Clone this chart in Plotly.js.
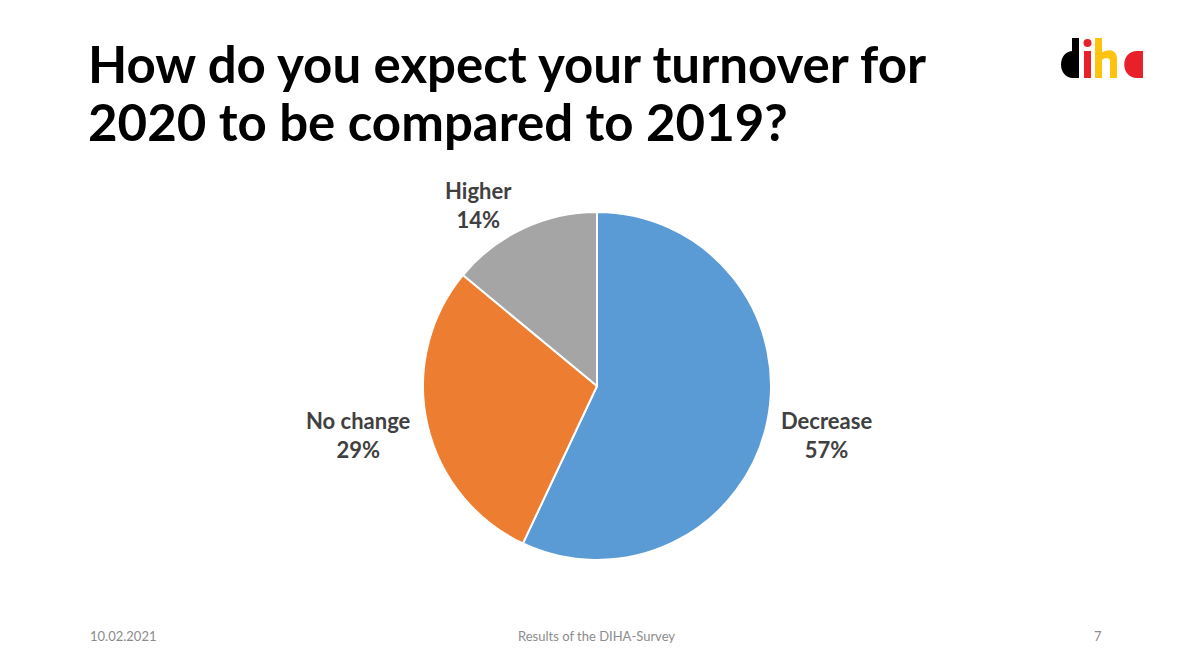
<!DOCTYPE html>
<html>
<head>
<meta charset="utf-8">
<script src="https://cdn.plot.ly/plotly-3.0.1.min.js"></script>
<style>html,body{margin:0;padding:0;background:#fff;}#chart{width:1191px;height:667px;}</style>
</head>
<body>
<div id="chart"></div>
<script>
const categories = ["Decrease", "No change", "Higher"];
const shares = [57, 29, 14];
const sliceColors = ["#5B9BD5", "#ED7D31", "#A5A5A5"];
const titleLines = ["How do you expect your turnover for", "2020 to be compared to 2019?"];
const footerDate = "10.02.2021";
const footerText = "Results of the DIHA-Survey";
const pageNumber = "7";
const logoColors = {black: "#000000", red: "#E8202A", gold: "#FFC20E"};

// label anchor positions (layout only)
const labelPos = [
  {x: 826, y: 435},
  {x: 358, y: 435},
  {x: 478, y: 205}
];
const titleLineY = [64, 121];
const W = 1191, H = 667;
const total = shares.reduce((a, b) => a + b, 0);

const trace = {
  type: "pie",
  labels: categories,
  values: shares,
  sort: false,
  direction: "clockwise",
  rotation: 0,
  marker: {colors: sliceColors, line: {color: "#ffffff", width: 2}},
  textinfo: "none",
  hoverinfo: "label+percent",
  showlegend: false,
  domain: {x: [(597 - 174) / W, (597 + 174) / W], y: [1 - (560 / H), 1 - (212 / H)]}
};

const annotations = categories.map((c, i) => ({
  xref: "paper", yref: "paper",
  x: labelPos[i].x / W, y: 1 - labelPos[i].y / H,
  xanchor: "center", yanchor: "middle",
  text: "<b>" + c + "</b><br><b>" + Math.round(shares[i] / total * 100) + "%</b>",
  showarrow: false,
  font: {family: "Lato, 'Open Sans', sans-serif", size: 22, color: "#404040"}
}));

titleLines.forEach((t, i) => annotations.push({
  xref: "paper", yref: "paper", x: 86 / W, y: 1 - titleLineY[i] / H,
  xanchor: "left", yanchor: "middle", showarrow: false,
  text: "<b>" + t + "</b>",
  font: {family: "Lato, 'Open Sans', sans-serif", size: 51, color: "#000000"}
}));

annotations.push(
  {xref: "paper", yref: "paper", x: 88 / W, y: 1 - 636 / H, xanchor: "left", yanchor: "middle",
   text: footerDate, showarrow: false, font: {family: "Lato, sans-serif", size: 13, color: "#8C8C8C"}},
  {xref: "paper", yref: "paper", x: 596 / W, y: 1 - 636 / H, xanchor: "center", yanchor: "middle",
   text: footerText, showarrow: false, font: {family: "Lato, sans-serif", size: 13, color: "#8C8C8C"}},
  {xref: "paper", yref: "paper", x: 1104 / W, y: 1 - 636 / H, xanchor: "right", yanchor: "middle",
   text: pageNumber, showarrow: false, font: {family: "Lato, sans-serif", size: 13, color: "#8C8C8C"}}
);

// Logo "diha" drawn as shapes in pixel space converted to paper fractions
function P(x, y) { return (x / W).toFixed(5) + "," + (1 - y / H).toFixed(5); }
function pathShape(d, color) {
  return {type: "path", xref: "paper", yref: "paper", path: d, fillcolor: color, line: {width: 0}};
}
function rectShape(x0, y0, x1, y1, color) {
  return {type: "rect", xref: "paper", yref: "paper", x0: x0 / W, x1: x1 / W, y0: 1 - y1 / H, y1: 1 - y0 / H,
          fillcolor: color, line: {width: 0}};
}
const shapes = [
  // d
  rectShape(1072, 38, 1079, 78, logoColors.black),
  pathShape("M" + P(1073, 51) + " C" + P(1057, 51) + " " + P(1057, 78) + " " + P(1073, 78) + " Z", logoColors.black),
  // i
  rectShape(1084, 51, 1091, 78, logoColors.red),
  {type: "circle", xref: "paper", yref: "paper", x0: 1083.5 / W, x1: 1091.5 / W, y0: 1 - 47 / H, y1: 1 - 39 / H,
   fillcolor: logoColors.red, line: {width: 0}},
  // h
  rectShape(1095, 38, 1102, 78, logoColors.gold),
  pathShape("M" + P(1101, 53) + " C" + P(1109, 48) + " " + P(1117, 50) + " " + P(1117, 59) +
            " L" + P(1117, 78) + " L" + P(1110, 78) + " L" + P(1110, 61) +
            " C" + P(1110, 57) + " " + P(1104, 57) + " " + P(1101, 61) + " Z", logoColors.gold),
  // a
  rectShape(1136, 51, 1143, 78, logoColors.red),
  pathShape("M" + P(1137, 51) + " C" + P(1120, 51) + " " + P(1120, 78) + " " + P(1137, 78) + " Z", logoColors.red)
];

const layout = {
  width: W, height: H,
  margin: {l: 0, r: 0, t: 0, b: 0},
  paper_bgcolor: "#ffffff",
  annotations: annotations,
  shapes: shapes
};

Plotly.newPlot("chart", [trace], layout, {displayModeBar: false, staticPlot: true});
</script>
</body>
</html>
